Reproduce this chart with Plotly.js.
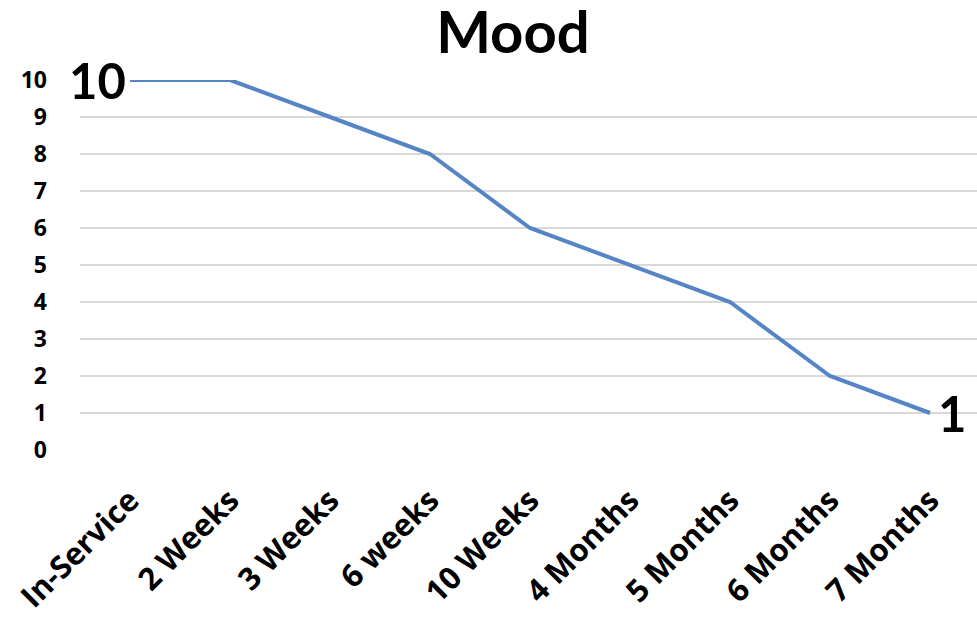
<!DOCTYPE html>
<html>
<head>
<meta charset="utf-8">
<script src="https://cdn.plot.ly/plotly-3.0.1.min.js"></script>
<style>html,body{margin:0;padding:0;background:#fff;}#chart{width:977px;height:619px;}</style>
</head>
<body>
<div id="chart"></div>
<script>
var categories = ["In-Service", "2 Weeks", "3 Weeks", "6 weeks", "10 Weeks", "4 Months", "5 Months", "6 Months", "7 Months"];
var moodValues = [10, 10, 9, 8, 6, 5, 4, 2, 1];
var yTicks = [0, 1, 2, 3, 4, 5, 6, 7, 8, 9, 10];

var fontFam = "Lato, 'Open Sans', 'Noto Sans', sans-serif";
var tickFam = "'Open Sans', Lato, sans-serif";

var trace = {
  x: categories,
  y: moodValues,
  type: "scatter",
  mode: "lines",
  line: {color: "#5585C4", width: 4},
  cliponaxis: false,
  hoverinfo: "none"
};

var n = categories.length;
var layout = {
  width: 977,
  height: 619,
  margin: {l: 80, r: 0, t: 80, b: 169},
  paper_bgcolor: "#ffffff",
  plot_bgcolor: "#ffffff",
  showlegend: false,
  title: {
    text: "<b>Mood</b>",
    font: {family: fontFam, size: 58, color: "#000"},
    x: 0.525, xanchor: "center",
    yref: "container",
    y: 0.98, yanchor: "top",
    pad: {t: 0, b: 0}
  },
  xaxis: {
    type: "category",
    range: [-0.5, n - 0.53],
    showgrid: false,
    zeroline: false,
    showline: false,
    ticks: "",
    tickangle: -45,
    tickfont: {family: tickFam, size: 31, color: "#000", weight: "bold"},
    ticklabelstandoff: 25
  },
  yaxis: {
    range: [0, 10],
    tickvals: yTicks,
    ticktext: yTicks.map(String),
    showgrid: true,
    gridcolor: "#d9d9d9",
    gridwidth: 1.5,
    zeroline: false,
    showline: false,
    ticks: "",
    tickfont: {family: tickFam, size: 23, color: "#000", weight: "bold"},
    ticklabelstandoff: 32
  },
  annotations: [
    {
      x: categories[0], y: moodValues[0], xref: "x", yref: "y",
      text: "<b>" + moodValues[0] + "</b>",
      showarrow: false, xanchor: "right", yanchor: "middle", xshift: -2,
      font: {family: fontFam, size: 49, color: "#000"}
    },
    {
      x: categories[n - 1], y: moodValues[n - 1], xref: "x", yref: "y",
      text: "<b>" + moodValues[n - 1] + "</b>",
      showarrow: false, xanchor: "left", yanchor: "middle", xshift: 6,
      font: {family: fontFam, size: 49, color: "#000"}
    }
  ]
};

Plotly.newPlot("chart", [trace], layout, {displayModeBar: false, staticPlot: true});
</script>
</body>
</html>
